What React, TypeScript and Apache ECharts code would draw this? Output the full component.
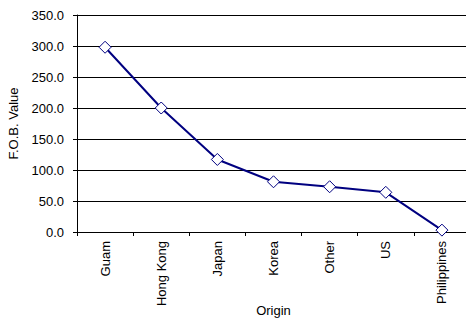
import React, { useEffect, useRef } from "react";
import * as echarts from "echarts";

const categories = ["Guam", "Hong Kong", "Japan", "Korea", "Other", "US", "Philippines"];
const values = [298, 200, 117, 81, 73, 64, 3];
const yTicks = { min: 0, max: 350, interval: 50 };

export default function App() {
  const ref = useRef<HTMLDivElement>(null);
  useEffect(() => {
    if (!ref.current) return;
    const chart = echarts.init(ref.current, undefined, { renderer: "svg" });
    const font = "Liberation Sans, Arial, sans-serif";
    chart.setOption({
      animation: false,
      backgroundColor: "#fff",
      grid: {
        left: 77,
        right: -4,
        top: 15,
        bottom: 90,
        containLabel: false,
        outerBoundsMode: "none",
      },
      xAxis: {
        type: "category",
        data: categories,
        boundaryGap: true,
        name: "Origin",
        nameLocation: "middle",
        nameGap: 72,
        nameMoveOverlap: false,
        nameTextStyle: { fontFamily: font, fontSize: 13, color: "#000" },
        axisLine: { show: true, lineStyle: { color: "#000", width: 1 } },
        axisTick: { show: true, length: 4, alignWithLabel: false, lineStyle: { color: "#000" } },
        axisLabel: { rotate: 90, interval: 0, margin: 9, fontFamily: font, fontSize: 13, color: "#000" },
        splitLine: { show: false },
      },
      yAxis: {
        type: "value",
        min: yTicks.min,
        max: yTicks.max,
        interval: yTicks.interval,
        name: "F.O.B. Value",
        nameLocation: "middle",
        nameRotate: 90,
        nameGap: 57,
        nameMoveOverlap: false,
        nameTextStyle: { fontFamily: font, fontSize: 13, color: "#000" },
        axisLine: { show: true, lineStyle: { color: "#000", width: 1 } },
        axisTick: { show: true, length: 4, lineStyle: { color: "#000" } },
        axisLabel: {
          margin: 13,
          fontFamily: font,
          fontSize: 13,
          color: "#000",
          formatter: (v: number) => v.toFixed(1),
        },
        splitLine: { show: true, lineStyle: { color: "#000", width: 1 } },
      },
      series: [
        {
          type: "line",
          data: values,
          symbol: "diamond",
          symbolSize: 12,
          showAllSymbol: true,
          lineStyle: { color: "#000080", width: 2 },
          itemStyle: { color: "#fff", borderColor: "#000080", borderWidth: 1 },
        },
      ],
    });
    return () => chart.dispose();
  }, []);
  return (
    <div
      ref={ref}
      style={{ position: "fixed", left: 0, top: 0, width: 466, height: 322 }}
    />
  );
}
